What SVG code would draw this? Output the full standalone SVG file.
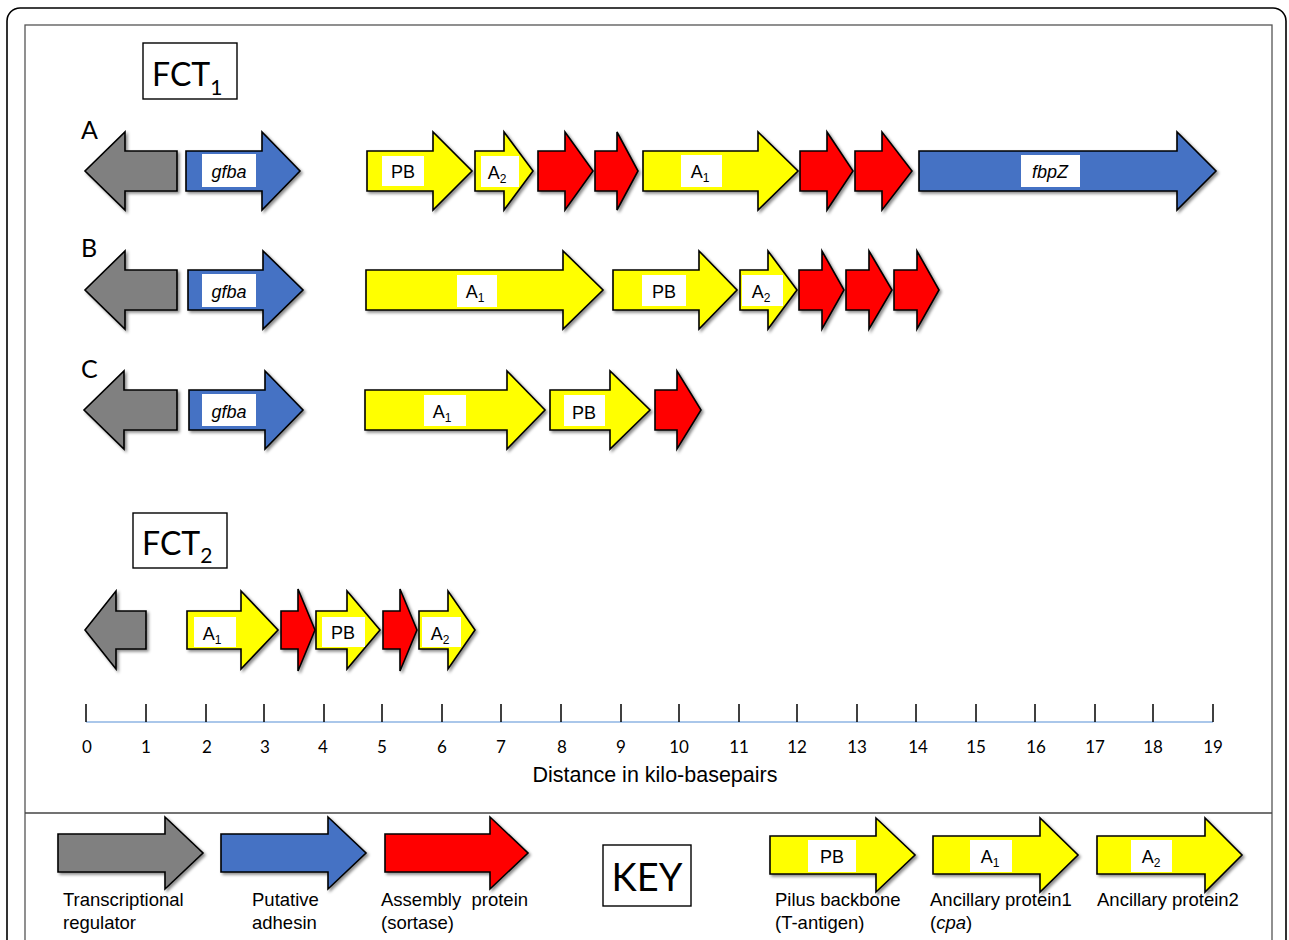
<svg xmlns="http://www.w3.org/2000/svg" width="1289" height="940" viewBox="0 0 1289 940">
  <defs>
    <filter id="shadow" x="-10%" y="-10%" width="130%" height="140%">
      <feDropShadow dx="2" dy="2" stdDeviation="1.6" flood-color="#000" flood-opacity="0.45"/>
    </filter>
  </defs>
  <style>
    .arrow { stroke: #000; stroke-width: 1.6; stroke-linejoin: miter; filter: url(#shadow); }
    .gray { fill: #808080; }
    .blue { fill: #4472C4; }
    .red { fill: #FF0000; }
    .yel { fill: #FFFF00; }
    .box { fill: #fff; }
    .lbl { font-family: "Liberation Sans", Arial, sans-serif; font-size: 18px; fill: #000; text-anchor: middle; }
    .it { font-style: italic; }
    .sub { font-size: 12px; }
    .row { font-family: Lato, "Open Sans", sans-serif; font-size: 25px; fill: #000; }
    .title { font-family: Lato, "Open Sans", sans-serif; font-size: 32px; fill: #000; }
    .tick { stroke: #000; stroke-width: 1.5; }
    .num { font-family: Lato, "Open Sans", sans-serif; font-size: 17px; fill: #000; text-anchor: middle; }
    .key { font-family: "Liberation Sans", Arial, sans-serif; font-size: 18.5px; fill: #000; }
  </style>

  <!-- frame -->
  <rect x="7" y="8" width="1279" height="960" rx="13" fill="#fff" stroke="#000" stroke-width="1.6"/>
  <rect x="25" y="25" width="1247" height="940" fill="none" stroke="#555" stroke-width="1.3"/>
  <line x1="25" y1="813" x2="1272" y2="813" stroke="#444" stroke-width="1.6"/>

  <!-- FCT1 title -->
  <g id="fct1-title">
    <rect x="143" y="43" width="94" height="56" fill="#fff" stroke="#000" stroke-width="1.4"/>
    <text class="title" x="152" y="86">FCT<tspan font-size="21" dy="9">1</tspan></text>
  </g>

  <!-- row A -->
  <g id="row-a">
    <text class="row" x="81" y="139">A</text>
    <path class="arrow gray" d="M177,151 H125 V132 L85,171 L125,210 V191 H177 Z"/>
    <path class="arrow blue" d="M186,151 H262 V132 L300,171 L262,210 V191 H186 Z"/>
    <rect class="box" x="202" y="154" width="54" height="33"/>
    <text class="lbl it" x="229" y="178">gfba</text>
    <path class="arrow yel" d="M367,151 H433 V132 L472,171 L433,210 V191 H367 Z"/>
    <rect class="box" x="382" y="156" width="42" height="30"/>
    <text class="lbl" x="403" y="178">PB</text>
    <path class="arrow yel" d="M475,151 H504 V132 L533,171 L504,210 V191 H475 Z"/>
    <rect class="box" x="481" y="156" width="38" height="31"/>
    <text class="lbl" x="497" y="179">A<tspan class="sub" dy="4">2</tspan></text>
    <path class="arrow red" d="M538,151 H565 V132 L593,171 L565,210 V191 H538 Z"/>
    <path class="arrow red" d="M595,151 H617 V132 L638,171 L617,210 V191 H595 Z"/>
    <path class="arrow yel" d="M643,151 H758 V132 L798,171 L758,210 V191 H643 Z"/>
    <rect class="box" x="681" y="155" width="41" height="32"/>
    <text class="lbl" x="700" y="178">A<tspan class="sub" dy="4">1</tspan></text>
    <path class="arrow red" d="M800,151 H827 V132 L853,171 L827,210 V191 H800 Z"/>
    <path class="arrow red" d="M855,151 H882 V132 L912,171 L882,210 V191 H855 Z"/>
    <path class="arrow blue" d="M919,151 H1177 V132 L1216,171 L1177,210 V191 H919 Z"/>
    <rect class="box" x="1021" y="155" width="59" height="32"/>
    <text class="lbl it" x="1050" y="178">fbpZ</text>
  </g>

  <!-- row B -->
  <g id="row-b">
    <text class="row" x="81" y="257">B</text>
    <path class="arrow gray" d="M177,270 H125 V251 L85,290 L125,329 V310 H177 Z"/>
    <path class="arrow blue" d="M188,270 H263 V251 L303,290 L263,329 V310 H188 Z"/>
    <rect class="box" x="202" y="274" width="54" height="33"/>
    <text class="lbl it" x="229" y="298">gfba</text>
    <path class="arrow yel" d="M366,270 H563 V251 L603,290 L563,329 V310 H366 Z"/>
    <rect class="box" x="457" y="275" width="40" height="32"/>
    <text class="lbl" x="475" y="298">A<tspan class="sub" dy="4">1</tspan></text>
    <path class="arrow yel" d="M613,270 H699 V251 L737,290 L699,329 V310 H613 Z"/>
    <rect class="box" x="642" y="275" width="44" height="31"/>
    <text class="lbl" x="664" y="298">PB</text>
    <path class="arrow yel" d="M740,270 H768 V251 L797,290 L768,329 V310 H740 Z"/>
    <rect class="box" x="742" y="275" width="41" height="31"/>
    <text class="lbl" x="761" y="298">A<tspan class="sub" dy="4">2</tspan></text>
    <path class="arrow red" d="M799,270 H822 V251 L844,290 L822,329 V310 H799 Z"/>
    <path class="arrow red" d="M846,270 H869 V251 L892,290 L869,329 V310 H846 Z"/>
    <path class="arrow red" d="M894,270 H917 V251 L939,290 L917,329 V310 H894 Z"/>
  </g>

  <!-- row C -->
  <g id="row-c">
    <text class="row" x="81" y="378">C</text>
    <path class="arrow gray" d="M177,390 H124 V371 L84,410 L124,449 V430 H177 Z"/>
    <path class="arrow blue" d="M189,390 H265 V371 L303,410 L265,449 V430 H189 Z"/>
    <rect class="box" x="202" y="394" width="54" height="32"/>
    <text class="lbl it" x="229" y="418">gfba</text>
    <path class="arrow yel" d="M365,390 H507 V371 L545,410 L507,449 V430 H365 Z"/>
    <rect class="box" x="424" y="395" width="42" height="31"/>
    <text class="lbl" x="442" y="418">A<tspan class="sub" dy="4">1</tspan></text>
    <path class="arrow yel" d="M550,390 H610 V371 L650,410 L610,449 V430 H550 Z"/>
    <rect class="box" x="564" y="395" width="41" height="31"/>
    <text class="lbl" x="584" y="419">PB</text>
    <path class="arrow red" d="M655,390 H677 V371 L701,410 L677,449 V430 H655 Z"/>
  </g>

  <!-- FCT2 title -->
  <g id="fct2-title">
    <rect x="133" y="513" width="94" height="55" fill="#fff" stroke="#000" stroke-width="1.4"/>
    <text class="title" x="142" y="555">FCT<tspan font-size="21" dy="8">2</tspan></text>
  </g>

  <!-- FCT2 row -->
  <g id="row-fct2">
    <path class="arrow gray" d="M146,611 H116 V591 L85,630 L116,669 V649 H146 Z"/>
    <path class="arrow yel" d="M187,611 H241 V591 L278,630 L241,669 V649 H187 Z"/>
    <rect class="box" x="194" y="617" width="42" height="30"/>
    <text class="lbl" x="212" y="640">A<tspan class="sub" dy="4">1</tspan></text>
    <path class="arrow red" d="M281,611 H298 V589 L315,630 L298,671 V649 H281 Z"/>
    <path class="arrow yel" d="M316,611 H347 V591 L380,630 L347,669 V649 H316 Z"/>
    <rect class="box" x="322" y="617" width="43" height="30"/>
    <text class="lbl" x="343" y="639">PB</text>
    <path class="arrow red" d="M383,611 H400 V589 L417,630 L400,671 V649 H383 Z"/>
    <path class="arrow yel" d="M419,611 H448 V591 L475,630 L448,669 V649 H419 Z"/>
    <rect class="box" x="422" y="617" width="39" height="30"/>
    <text class="lbl" x="440" y="640">A<tspan class="sub" dy="4">2</tspan></text>
  </g>

  <!-- distance scale -->
  <g id="scale">
    <line x1="86" y1="722" x2="1213" y2="722" stroke="#8eb4e3" stroke-width="1.6"/>
    <g class="tick">
      <line x1="86" y1="704" x2="86" y2="722"/>
      <line x1="146" y1="704" x2="146" y2="722"/>
      <line x1="206" y1="704" x2="206" y2="722"/>
      <line x1="264" y1="704" x2="264" y2="722"/>
      <line x1="324" y1="704" x2="324" y2="722"/>
      <line x1="382" y1="704" x2="382" y2="722"/>
      <line x1="442" y1="704" x2="442" y2="722"/>
      <line x1="501" y1="704" x2="501" y2="722"/>
      <line x1="561" y1="704" x2="561" y2="722"/>
      <line x1="621" y1="704" x2="621" y2="722"/>
      <line x1="679" y1="704" x2="679" y2="722"/>
      <line x1="739" y1="704" x2="739" y2="722"/>
      <line x1="797" y1="704" x2="797" y2="722"/>
      <line x1="857" y1="704" x2="857" y2="722"/>
      <line x1="916" y1="704" x2="916" y2="722"/>
      <line x1="976" y1="704" x2="976" y2="722"/>
      <line x1="1035" y1="704" x2="1035" y2="722"/>
      <line x1="1095" y1="704" x2="1095" y2="722"/>
      <line x1="1153" y1="704" x2="1153" y2="722"/>
      <line x1="1213" y1="704" x2="1213" y2="722"/>
    </g>
    <text class="num" x="87" y="753">0</text>
    <text class="num" x="146" y="753">1</text>
    <text class="num" x="207" y="753">2</text>
    <text class="num" x="265" y="753">3</text>
    <text class="num" x="323" y="753">4</text>
    <text class="num" x="382" y="753">5</text>
    <text class="num" x="442" y="753">6</text>
    <text class="num" x="501" y="753">7</text>
    <text class="num" x="562" y="753">8</text>
    <text class="num" x="621" y="753">9</text>
    <text class="num" x="679" y="753">10</text>
    <text class="num" x="739" y="753">11</text>
    <text class="num" x="797" y="753">12</text>
    <text class="num" x="857" y="753">13</text>
    <text class="num" x="918" y="753">14</text>
    <text class="num" x="976" y="753">15</text>
    <text class="num" x="1036" y="753">16</text>
    <text class="num" x="1095" y="753">17</text>
    <text class="num" x="1153" y="753">18</text>
    <text class="num" x="1213" y="753">19</text>
    <text x="655" y="782" font-family="Liberation Sans, Arial, sans-serif" font-size="21.5" text-anchor="middle">Distance in kilo-basepairs</text>
  </g>

  <!-- key -->
  <g id="key-regulator">
    <path class="arrow gray" d="M58,834 H165 V817 L203,853 L165,889 V872 H58 Z"/>
    <text class="key" x="63" y="906">Transcriptional</text>
    <text class="key" x="63" y="929">regulator</text>
  </g>
  <g id="key-adhesin">
    <path class="arrow blue" d="M221,834 H328 V817 L366,853 L328,889 V872 H221 Z"/>
    <text class="key" x="252" y="906">Putative</text>
    <text class="key" x="252" y="929">adhesin</text>
  </g>
  <g id="key-sortase">
    <path class="arrow red" d="M385,834 H490 V817 L528,853 L490,889 V872 H385 Z"/>
    <text class="key" x="381" y="906" xml:space="preserve">Assembly  protein</text>
    <text class="key" x="381" y="929">(sortase)</text>
  </g>
  <g id="key-title">
    <rect x="603" y="845" width="88" height="61" fill="#fff" stroke="#000" stroke-width="1.4"/>
    <text x="647" y="891" font-family="Lato, 'Open Sans', sans-serif" font-size="38" text-anchor="middle">KEY</text>
  </g>
  <g id="key-backbone">
    <path class="arrow yel" d="M770,836 H876 V818 L915,855 L876,892 V874 H770 Z"/>
    <rect class="box" x="808" y="840" width="48" height="32"/>
    <text class="lbl" x="832" y="863">PB</text>
    <text class="key" x="775" y="906">Pilus backbone</text>
    <text class="key" x="775" y="929">(T-antigen)</text>
  </g>
  <g id="key-ancillary1">
    <path class="arrow yel" d="M933,836 H1040 V818 L1078,855 L1040,892 V874 H933 Z"/>
    <rect class="box" x="970" y="840" width="42" height="32"/>
    <text class="lbl" x="990" y="863">A<tspan class="sub" dy="4">1</tspan></text>
    <text class="key" x="930" y="906">Ancillary protein1</text>
    <text class="key" x="930" y="929">(<tspan font-style="italic">cpa</tspan>)</text>
  </g>
  <g id="key-ancillary2">
    <path class="arrow yel" d="M1097,836 H1205 V818 L1242,855 L1205,892 V874 H1097 Z"/>
    <rect class="box" x="1131" y="840" width="41" height="32"/>
    <text class="lbl" x="1151" y="863">A<tspan class="sub" dy="4">2</tspan></text>
    <text class="key" x="1097" y="906">Ancillary protein2</text>
  </g>
</svg>
